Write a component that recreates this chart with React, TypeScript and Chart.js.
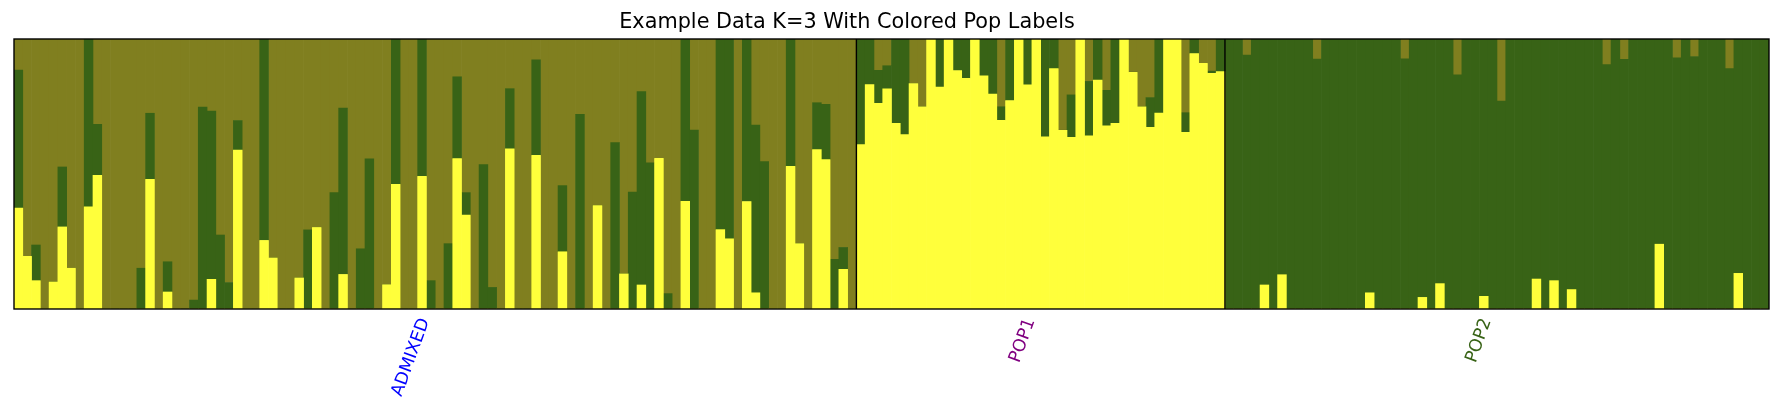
import React, { useEffect, useRef } from "react";
import { Chart, registerables } from "chart.js";

Chart.register(...registerables);

const TITLE = "Example Data K=3 With Colored Pop Labels";
const popNames = ["ADMIXED", "POP1", "POP2"];
const popColors = ["#0000ff", "#800080", "#386316"];
const clusterNames = ["K1", "K2", "K3"];
const clusterColors = ["#ffff3b", "#386316", "#807f1f"];

// ADMIXED (96 individuals)
const admixedK1 = [
  0.374, 0.195, 0.105, 0, 0.1, 0.304, 0.151, 0, 0.378, 0.495,
  0, 0, 0, 0, 0, 0.48, 0, 0.063, 0, 0,
  0, 0, 0.11, 0, 0, 0.589, 0, 0, 0.254, 0.189,
  0, 0, 0.115, 0, 0.302, 0, 0, 0.128, 0, 0,
  0, 0, 0.09, 0.462, 0, 0, 0.491, 0, 0, 0,
  0.557, 0.348, 0, 0, 0, 0, 0.593, 0, 0, 0.569,
  0, 0, 0.212, 0, 0, 0, 0.383, 0, 0, 0.13,
  0, 0.089, 0, 0.558, 0, 0, 0.399, 0, 0, 0,
  0.294, 0.26, 0, 0.398, 0.06, 0, 0, 0, 0.528, 0.242,
  0, 0.59, 0.553, 0, 0.147, 0,
];
const admixedK2 = [
  0.511, 0, 0.132, 0, 0, 0.222, 0, 0, 0.622, 0.189,
  0, 0, 0, 0, 0.151, 0.245, 0, 0.112, 0, 0,
  0.033, 0.748, 0.623, 0.274, 0.098, 0.109, 0, 0, 0.746, 0,
  0, 0, 0, 0.293, 0, 0, 0.431, 0.616, 0, 0.223,
  0.556, 0, 0, 0.538, 0, 0, 0.509, 0.105, 0, 0.242,
  0.303, 0.083, 0, 0.535, 0.08, 0, 0.223, 0, 0, 0.354,
  0, 0, 0.245, 0, 0.721, 0, 0, 0, 0.616, 0,
  0.433, 0.716, 0.541, 0, 0.057, 0, 0.601, 0.663, 0, 0,
  0.706, 0.74, 0, 0.602, 0.621, 0.546, 0, 0, 0.472, 0,
  0, 0.174, 0.205, 0.184, 0.081, 0,
];
const admixedK3 = [
  0.115, 0.805, 0.763, 1, 0.9, 0.474, 0.849, 1, 0, 0.316,
  1, 1, 1, 1, 0.849, 0.275, 1, 0.825, 1, 1,
  0.967, 0.252, 0.267, 0.726, 0.902, 0.302, 1, 1, 0, 0.811,
  1, 1, 0.885, 0.707, 0.698, 1, 0.569, 0.256, 1, 0.777,
  0.444, 1, 0.91, 0, 1, 1, 0, 0.895, 1, 0.758,
  0.14, 0.569, 1, 0.465, 0.92, 1, 0.184, 1, 1, 0.077,
  1, 1, 0.543, 1, 0.279, 1, 0.617, 1, 0.384, 0.87,
  0.567, 0.195, 0.459, 0.442, 0.943, 1, 0, 0.337, 1, 1,
  0, 0, 1, 0, 0.319, 0.454, 1, 1, 0, 0.758,
  1, 0.236, 0.242, 0.816, 0.772, 1,
];

// POP1 (42 individuals)
const pop1K1 = [
  0.609, 0.831, 0.762, 0.815, 0.688, 0.646, 0.835, 0.749, 1, 0.822,
  1, 0.883, 0.854, 1, 0.864, 0.796, 0.699, 0.772, 1, 0.83,
  1, 0.638, 0.89, 0.662, 0.636, 1, 0.641, 0.848, 0.678, 0.688,
  1, 0.877, 0.749, 0.673, 0.726, 1, 1, 0.654, 0.946, 0.91,
  0.873, 0.879,
];
const pop1K2 = [
  0.391, 0.169, 0.122, 0.086, 0.312, 0.354, 0, 0, 0, 0.178,
  0, 0.117, 0.146, 0, 0.136, 0.204, 0.05, 0.228, 0, 0.17,
  0, 0.362, 0.11, 0, 0.157, 0, 0.202, 0.152, 0.132, 0.312,
  0, 0, 0, 0.11, 0.274, 0, 0, 0.073, 0.054, 0,
  0.008, 0.121,
];
const pop1K3 = [
  0, 0, 0.116, 0.099, 0, 0, 0.165, 0.251, 0, 0,
  0, 0, 0, 0, 0, 0, 0.251, 0, 0, 0,
  0, 0, 0, 0.338, 0.207, 0, 0.157, 0, 0.19, 0,
  0, 0.123, 0.251, 0.217, 0, 0, 0, 0.273, 0, 0.09,
  0.119, 0,
];

// POP2 (62 individuals)
const pop2K1 = [
  0, 0, 0, 0, 0.089, 0, 0.127, 0, 0, 0,
  0, 0, 0, 0, 0, 0, 0.06, 0, 0, 0,
  0, 0, 0.043, 0, 0.094, 0, 0, 0, 0, 0.047,
  0, 0, 0, 0, 0, 0.111, 0, 0.105, 0, 0.072,
  0, 0, 0, 0, 0, 0, 0, 0, 0, 0.24,
  0, 0, 0, 0, 0, 0, 0, 0, 0.132, 0,
  0, 0,
];
const pop2K2 = [
  1, 1, 0.94, 1, 0.911, 1, 0.873, 1, 1, 1,
  0.926, 1, 1, 1, 1, 1, 0.94, 1, 1, 1,
  0.927, 1, 0.957, 1, 0.906, 1, 0.867, 1, 1, 0.953,
  1, 0.77, 1, 1, 1, 0.889, 1, 0.895, 1, 0.928,
  1, 1, 1, 0.905, 1, 0.925, 1, 1, 1, 0.76,
  1, 0.93, 1, 0.935, 1, 1, 1, 0.89, 0.868, 1,
  1, 1,
];
const pop2K3 = [
  0, 0, 0.06, 0, 0, 0, 0, 0, 0, 0,
  0.074, 0, 0, 0, 0, 0, 0, 0, 0, 0,
  0.073, 0, 0, 0, 0, 0, 0.133, 0, 0, 0,
  0, 0.23, 0, 0, 0, 0, 0, 0, 0, 0,
  0, 0, 0, 0.095, 0, 0.075, 0, 0, 0, 0,
  0, 0.07, 0, 0.065, 0, 0, 0, 0.11, 0, 0,
  0, 0,
];

export default function App() {
  const ref = useRef<HTMLCanvasElement | null>(null);

  useEffect(() => {
    document.body.style.margin = "0";
    const canvas = ref.current;
    if (!canvas) return;

    const series = [
      [...admixedK1, ...pop1K1, ...pop2K1],
      [...admixedK2, ...pop1K2, ...pop2K2],
      [...admixedK3, ...pop1K3, ...pop2K3],
    ];
    const sizes = [admixedK1.length, pop1K1.length, pop2K1.length];
    const labels = series[0].map((_, i) => `ind${i + 1}`);

    const decor = {
      id: "decor",
      afterDatasetsDraw(chart: any) {
        const { ctx, chartArea: a, scales } = chart;
        const x = scales.x;
        const half = (x.getPixelForValue(1) - x.getPixelForValue(0)) / 2;
        ctx.save();
        // group separators
        ctx.strokeStyle = "#000000";
        ctx.lineWidth = 1.4;
        let start = 0;
        const centers: number[] = [];
        sizes.forEach((n, gi) => {
          const end = start + n - 1;
          centers.push((x.getPixelForValue(start) + x.getPixelForValue(end)) / 2);
          if (gi < sizes.length - 1) {
            const px = x.getPixelForValue(end) + half;
            ctx.beginPath();
            ctx.moveTo(px, a.top);
            ctx.lineTo(px, a.bottom);
            ctx.stroke();
          }
          start += n;
        });
        // frame
        ctx.strokeRect(a.left, a.top, a.right - a.left, a.bottom - a.top);

        // title
        ctx.fillStyle = "#000000";
        ctx.font = "20.8px 'DejaVu Sans'";
        ctx.textAlign = "center";
        ctx.textBaseline = "alphabetic";
        ctx.fillText(TITLE, 847, a.top - 11.3);

        // rotated population labels
        const theta = (70 * Math.PI) / 180;
        const c = Math.cos(theta);
        const s = Math.sin(theta);
        ctx.font = "17.4px 'DejaVu Sans'";
        ctx.textAlign = "left";
        popNames.forEach((name, i) => {
          const m = ctx.measureText(name);
          const w = m.width;
          const asc = 17.4 * 0.76;
          const desc = 17.4 * 0.24;
          const R = centers[i] - 2;
          const T = a.bottom + 7;
          const ox = R - (w * c + desc * s);
          const oy = T + w * s + asc * c;
          ctx.save();
          ctx.translate(ox, oy);
          ctx.rotate(-theta);
          ctx.fillStyle = popColors[i];
          ctx.fillText(name, 0, 0);
          ctx.restore();
        });
        ctx.restore();
      },
    };

    const chart = new Chart(canvas, {
      type: "bar",
      data: {
        labels,
        datasets: series.map((d, i) => ({
          label: clusterNames[i],
          data: d,
          backgroundColor: clusterColors[i],
          borderWidth: 0,
          categoryPercentage: 1,
          barPercentage: 1,
        })),
      },
      options: {
        responsive: false,
        animation: false,
        layout: { padding: { left: 14, right: 13, top: 39, bottom: 103 } },
        plugins: {
          legend: { display: false },
          tooltip: { enabled: false },
          title: { display: false },
        },
        scales: {
          x: { stacked: true, display: false },
          y: { stacked: true, display: false, min: 0, max: 1 },
        },
      },
      plugins: [decor],
    });

    return () => chart.destroy();
  }, []);

  return <canvas ref={ref} width={1782} height={412} style={{ display: "block" }} />;
}
